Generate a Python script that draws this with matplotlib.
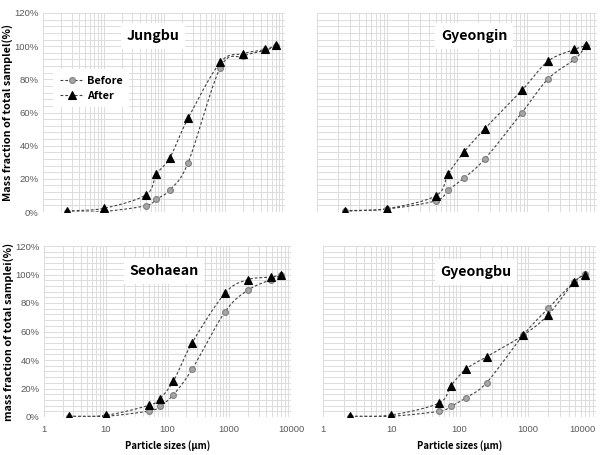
import numpy as np
import matplotlib
matplotlib.use("Agg")
import matplotlib.pyplot as plt
from matplotlib.ticker import LogLocator, MultipleLocator, FixedLocator, NullFormatter

# ---- data ----
sizes = [2.5, 10, 50, 75, 125, 250, 850, 2000, 4750, 7000]

jungbu_before = [0, 0.3, 3.8, 7.8, 13.3, 29.7, 87, 94, 97.5, 100]
jungbu_after = [0.6, 2.2, 10.3, 22.8, 32.7, 56.5, 90.2, 95.5, 98, 100.5]

gyeongin_before = [0.5, 1.8, 6.8, 13.2, 20.4, 32, 60, 80.3, 92, 100]
gyeongin_after = [0.8, 2, 9.8, 23, 36, 50.3, 73.5, 91, 98, 100.5]

seohaean_before = [0, 0.5, 4.2, 7.5, 15.7, 33.5, 73.7, 89, 96.4, 99.6]
seohaean_after = [0.5, 1.2, 8.2, 12.9, 25.3, 52, 86.8, 96.4, 98.2, 100]

gyeongbu_before = [0, 0.5, 4, 7.5, 13.6, 24.1, 57.3, 76.3, 94.7, 100.3]
gyeongbu_after = [0.5, 1.4, 9.8, 22, 33.7, 42.3, 57.3, 71.8, 94.7, 100]

titles = ["Jungbu", "Gyeongin", "Seohaean", "Gyeongbu"]
series_labels = ["Before", "After"]
y_ticks = [0, 20, 40, 60, 80, 100, 120]
x_ticks = [1, 10, 100, 1000, 10000]
ylabel_top = "Mass fraction of total samplel(%)"
ylabel_bottom = "mass fraction of total samplei(%)"
xlabel = "Particle sizes (\u03bcm)"

W, H = 607, 455
fig = plt.figure(figsize=(W / 100, H / 100), dpi=100)


def px_axes(x0, x1, y0, y1):
    return fig.add_axes([x0 / W, (H - y1) / H, (x1 - x0) / W, (y1 - y0) / H])


def smooth(xs, ys, n=24):
    # Catmull-Rom smoothing (like spreadsheet "smoothed line") in screen-like space
    u = np.log10(np.asarray(xs, float)) * 65.0
    v = np.asarray(ys, float) * 1.6
    P = np.column_stack([u, v])
    P = np.vstack([P[0] - (P[1] - P[0]), P, P[-1] + (P[-1] - P[-2])])
    out = []
    t = np.linspace(0, 1, n)
    for i in range(1, len(P) - 2):
        p0, p1, p2, p3 = P[i - 1], P[i], P[i + 1], P[i + 2]
        c1 = p1 + (p2 - p0) / 6.0
        c2 = p2 - (p3 - p1) / 6.0
        seg = ((1 - t) ** 3)[:, None] * p1 + (3 * (1 - t) ** 2 * t)[:, None] * c1 \
            + (3 * (1 - t) * t ** 2)[:, None] * c2 + (t ** 3)[:, None] * p2
        out.append(seg if i == 1 else seg[1:])
    S = np.vstack(out)
    return 10 ** (S[:, 0] / 65.0), S[:, 1] / 1.6


tick_font = dict(family=["Liberation Sans Narrow", "Liberation Sans", "DejaVu Sans"], size=6.8, color="#595959")
bold_font = ["Noto Sans CJK KR", "DejaVu Sans"]

axes_px = [(43, 285, 13, 212), (317, 597, 13, 212), (44, 291, 246, 417), (323, 596, 246, 417)]
data = [(jungbu_before, jungbu_after), (gyeongin_before, gyeongin_after),
        (seohaean_before, seohaean_after), (gyeongbu_before, gyeongbu_after)]
title_pos = [(153, 36), (474, 36), (164, 271), (476, 272)]

line_col = "#404040"
for k, (box, (bef, aft)) in enumerate(zip(axes_px, data)):
    ax = px_axes(*box)
    ax.set_xscale("log")
    ax.set_xlim(1, 10000)
    ax.set_ylim(0, 120)
    ax.xaxis.set_major_locator(FixedLocator(x_ticks))
    ax.xaxis.set_minor_locator(LogLocator(base=10, subs=np.arange(2, 10), numticks=20))
    ax.xaxis.set_minor_formatter(NullFormatter())
    ax.yaxis.set_major_locator(FixedLocator(y_ticks))
    ax.yaxis.set_minor_locator(MultipleLocator(4))
    ax.grid(True, which="both", color="#dcdcdc", lw=0.7)
    ax.set_axisbelow(True)
    for s in ax.spines.values():
        s.set_visible(False)
    ax.tick_params(which="both", length=0)
    if k % 2 == 0:
        ax.set_yticks(y_ticks)
        ax.set_yticklabels([f"{v}%" for v in y_ticks], **tick_font)
        ax.tick_params(axis="y", pad=3)
    else:
        ax.set_yticklabels([])
    if k >= 2:
        labs = ax.set_xticklabels([str(v) for v in x_ticks], **tick_font)
        if k == 3:
            labs[-1].set_horizontalalignment("right")
            labs[-1].set_x(10000)
        ax.tick_params(axis="x", pad=6)
        ax.set_xlabel(xlabel, family=bold_font, fontweight="bold", fontsize=6.8, labelpad=4)
    else:
        ax.set_xticklabels([])
    if k == 0:
        ax.set_ylabel(ylabel_top, family=bold_font, fontweight="bold", fontsize=7.8, labelpad=1)
    elif k == 2:
        ax.set_ylabel(ylabel_bottom, family=bold_font, fontweight="bold", fontsize=7.8, labelpad=1)

    for vals, mk, fc, ec, ms, lab in [(bef, "o", "#a6a6a6", "#7f7f7f", 4.2, series_labels[0]),
                                      (aft, "^", "black", "black", 5.6, series_labels[1])]:
        sx, sy = smooth(sizes, vals)
        ax.plot(sx, sy, color=line_col, lw=0.8, ls=(0, (2.5, 1.8)), zorder=3)
        ax.plot(sizes, vals, ls="none", marker=mk, mfc=fc, mec=ec, ms=ms, mew=0.8, zorder=4)
        if k == 0:
            ax.plot([], [], color=line_col, lw=0.8, ls=(0, (2.5, 1.8)), marker=mk, mfc=fc,
                    mec=ec, ms=ms, mew=0.8, label=lab)
    if k == 0:
        leg = ax.legend(loc="upper left", bbox_to_anchor=(0.02, 0.745), frameon=True,
                        fancybox=False, edgecolor="white", framealpha=1,
                        prop={"family": bold_font, "weight": "bold", "size": 7.8},
                        handlelength=2.2, handletextpad=0.3, labelspacing=0.45, borderpad=0.6)
        leg.get_frame().set_linewidth(0)

    tx, ty = title_pos[k]
    fig.text(tx / W, 1 - ty / H, titles[k], ha="center", va="center", family=bold_font,
             fontweight="bold", fontsize=10.2,
             bbox=dict(boxstyle="square,pad=0.4", fc="white", ec="none"))

fig.savefig("out.png", dpi=100)
